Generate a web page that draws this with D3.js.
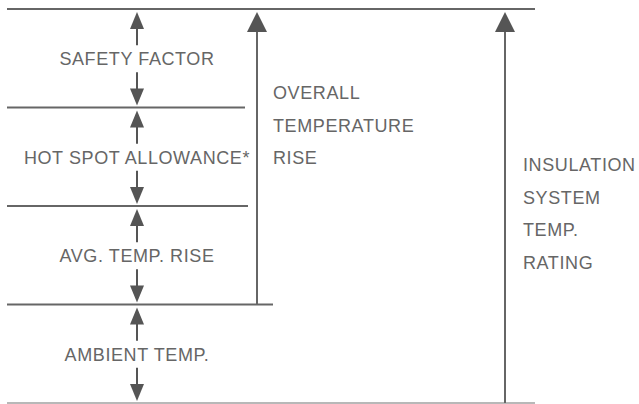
<!DOCTYPE html>
<html lang="en">
<head>
    <meta charset="UTF-8">
    <title>Temperature Rating Diagram</title>
    <script src="https://cdn.jsdelivr.net/npm/d3@7"></script>
    <style>
        body { margin: 0; background: #fff; }
        text { font-family: "Liberation Sans", Arial, sans-serif; font-size: 18px; fill: #666; letter-spacing: 0.6px; }
    </style>
</head>
<body>
<div id="chart"></div>
<script>
    // stacked bands, bottom to top
    const bands = ["AMBIENT TEMP.", "AVG. TEMP. RISE", "HOT SPOT ALLOWANCE*", "SAFETY FACTOR"];
    // boundary levels (0 = bottom line, 4 = top line) and how far each line runs
    const levels = [0, 1, 2, 3, 4];
    const lineEnds = [535, 273, 248, 245, 535];
    // the two long span arrows: from level, to level, label lines
    const spanFrom = [1, 0];
    const spanTo = [4, 4];
    const spanLabels = [["OVERALL", "TEMPERATURE", "RISE"], ["INSULATION", "SYSTEM", "TEMP.", "RATING"]];

    const width = 639, height = 404;
    const lineStart = 7;
    const midX = 137;
    const spanX = [257, 505];
    const spanTextX = [273, 523];
    const spanTextY = [99, 171];
    const lineGap = 32.5;

    const y = d3.scaleLinear().domain([0, 4]).range([403, 9]);

    const svg = d3.select("#chart")
        .append("svg")
        .attr("width", width)
        .attr("height", height);

    // triangle head pointing up (dir=-1) or down (dir=1), tip at (x, ty)
    function head(x, ty, dir, w, h) {
        const p = d3.path();
        p.moveTo(x, ty);
        p.lineTo(x - w / 2, ty - dir * h);
        p.lineTo(x + w / 2, ty - dir * h);
        p.closePath();
        return p.toString();
    }

    // horizontal lines
    svg.append("g")
        .selectAll("line")
        .data(levels)
        .join("line")
        .attr("x1", lineStart)
        .attr("x2", (d, i) => lineEnds[i])
        .attr("y1", d => y(d))
        .attr("y2", d => y(d))
        .attr("stroke", d => d === 0 ? "#a0a0a0" : "#666")
        .attr("stroke-width", d => d === 0 ? 1.5 : 2);

    // band labels with double arrows
    const band = svg.append("g")
        .selectAll("g")
        .data(bands)
        .join("g");

    band.each(function (label, i) {
        const g = d3.select(this);
        const top = y(i + 1), bot = y(i);
        const mid = (top + bot) / 2;
        g.append("line")
            .attr("x1", midX).attr("x2", midX)
            .attr("y1", top + 12).attr("y2", mid - 13)
            .attr("stroke", "#555").attr("stroke-width", 2);
        g.append("path").attr("d", head(midX, top + 3, -1, 14, 17)).attr("fill", "#555");
        g.append("line")
            .attr("x1", midX).attr("x2", midX)
            .attr("y1", mid + 14).attr("y2", bot - 12)
            .attr("stroke", "#555").attr("stroke-width", 2);
        g.append("path").attr("d", head(midX, bot - 2, 1, 14, 17)).attr("fill", "#555");
        g.append("text")
            .attr("x", midX)
            .attr("y", mid + 7)
            .attr("text-anchor", "middle")
            .text(label);
    });

    // long span arrows
    spanLabels.forEach((lines, i) => {
        const x = spanX[i];
        svg.append("line")
            .attr("x1", x).attr("x2", x)
            .attr("y1", y(spanFrom[i])).attr("y2", y(spanTo[i]) + 18)
            .attr("stroke", "#666").attr("stroke-width", 2);
        svg.append("path").attr("d", head(x, y(spanTo[i]) + 3, -1, 20, 20)).attr("fill", "#555");
        svg.append("g")
            .selectAll("text")
            .data(lines)
            .join("text")
            .attr("x", spanTextX[i])
            .attr("y", (d, j) => spanTextY[i] + j * lineGap)
            .text(d => d);
    });
</script>
</body>
</html>
